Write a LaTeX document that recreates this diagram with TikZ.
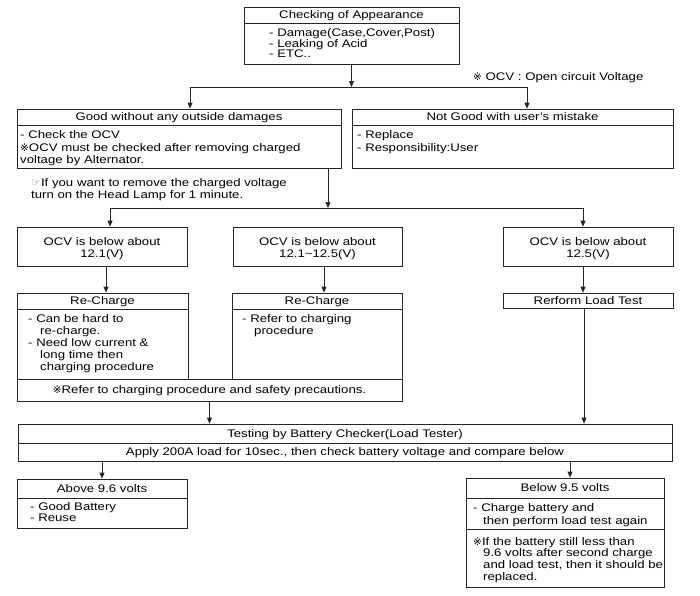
\documentclass[tikz,border=0pt]{standalone}
\usepackage{fontspec}
\setmainfont{Liberation Sans}[FakeStretch=1.2]
\newfontfamily\symf{DejaVu Sans}
\usetikzlibrary{arrows.meta}
\newcommand{\rmk}{{\fontsize{10.5}{12}\symf ※}}
\newcommand{\hand}{{\fontsize{11}{12}\symf\color{black!55}☞}}
\begin{document}
\begin{tikzpicture}[x=1pt,y=-1pt,font=\fontsize{11}{12}\selectfont,
  box/.style={draw=black!85,line width=0.7pt,inner sep=0pt,text height=7.9pt,text depth=0pt},
  tl/.style={anchor=base west,inner sep=0pt},
  tc/.style={anchor=base,inner sep=0pt},
  ln/.style={draw=black!85,line width=0.7pt},
  arr/.style={draw=black!85,line width=0.7pt,-{Triangle[length=6pt,width=5pt]}}]
\useasboundingbox (0,0) rectangle (700,595);
% top
\node[box,minimum width=215,minimum height=16] (apph) at (351.5,15) {Checking of Appearance};
\node[box,minimum width=215,minimum height=41] (appb) at (351.5,43.5) {};
\node[tl] (a1) at (269,36) {- Damage(Case,Cover,Post)};
\node[tl] (a2) at (269,47) {- Leaking of Acid};
\node[tl] (a3) at (269,57) {- ETC..};
\node[tl] (ocvnote) at (473,80) {\rmk\ OCV : Open circuit Voltage};
% level 2
\node[box,minimum width=324,minimum height=16] (goodh) at (179,117) {Good without any outside damages};
\node[box,minimum width=324,minimum height=43] (goodb) at (179,146.5) {};
\node[tl] (g1) at (20,138) {- Check the OCV};
\node[tl] (g2) at (20,151) {\rmk OCV must be checked after removing charged};
\node[tl] (g3) at (20,163) {voltage by Alternator.};
\node[box,minimum width=321,minimum height=16] (notgh) at (512.5,117) {Not Good with user's mistake};
\node[box,minimum width=321,minimum height=43] (notgb) at (512.5,146.5) {};
\node[tl] (n1) at (357,138) {- Replace};
\node[tl] (n2) at (357,151) {- Responsibility:User};
\node[tl] (h1) at (31,186) {\hand If you want to remove the charged voltage};
\node[tl] (h2) at (31,198) {turn on the Head Lamp for 1 minute.};
% level 3
\node[box,minimum width=170,minimum height=39] (ocv1) at (102,246.5) {};
\node[tc] (o1a) at (102,245) {OCV is below about};
\node[tc] (o1b) at (102,257) {12.1(V)};
\node[box,minimum width=169,minimum height=39] (ocv2) at (317.5,246.5) {};
\node[tc] (o2a) at (317.5,245) {OCV is below about};
\node[tc] (o2b) at (317.5,257) {12.1\textasciitilde 12.5(V)};
\node[box,minimum width=170,minimum height=39] (ocv3) at (588,246.5) {};
\node[tc] (o3a) at (588,245) {OCV is below about};
\node[tc] (o3b) at (588,257) {12.5(V)};
% level 4
\node[box,minimum width=171,minimum height=16] (rc1h) at (102.5,301) {Re-Charge};
\node[box,minimum width=171,minimum height=70] (rc1b) at (102.5,344) {};
\node[tl] (r1) at (28,322) {- Can be hard to};
\node[tl] (r2) at (40,334) {re-charge.};
\node[tl] (r3) at (28,346) {- Need low current \&};
\node[tl] (r4) at (40,358) {long time then};
\node[tl] (r5) at (40,370) {charging procedure};
\node[box,minimum width=170,minimum height=16] (rc2h) at (317,301) {Re-Charge};
\node[box,minimum width=170,minimum height=70] (rc2b) at (317,344) {};
\node[tl] (s1) at (242,322) {- Refer to charging};
\node[tl] (s2) at (254,334) {procedure};
\node[box,minimum width=385,minimum height=22] (rcn) at (209.5,390) {\rmk Refer to charging procedure and safety precautions.};
\node[box,minimum width=170,minimum height=15] (rerform) at (588,300.5) {Rerform Load Test};
% testing
\node[box,minimum width=654,minimum height=19] (testh) at (345,433.5) {Testing by Battery Checker(Load Tester)};
\node[box,minimum width=654,minimum height=18] (testb) at (345,452) {Apply 200A load for 10sec., then check battery voltage and compare below};
% results
\node[box,minimum width=170,minimum height=19] (aboveh) at (102,488.5) {Above 9.6 volts};
\node[box,minimum width=170,minimum height=30] (aboveb) at (102,513) {};
\node[tl] (b1) at (30,510) {- Good Battery};
\node[tl] (b2) at (30,521) {- Reuse};
\node[box,minimum width=198,minimum height=20] (belowh) at (565,488) {Below 9.5 volts};
\node[box,minimum width=198,minimum height=31] (belowb1) at (565,513.5) {};
\node[tl] (c1) at (473,511) {- Charge battery and};
\node[tl] (c2) at (483,524) {then perform load test again};
\node[box,minimum width=198,minimum height=58] (belowb2) at (565,558) {};
\node[tl] (d1) at (473,545) {\rmk If the battery still less than};
\node[tl] (d2) at (483,556) {9.6 volts after second charge};
\node[tl] (d3) at (483,568) {and load test, then it should be};
\node[tl] (d4) at (483,580) {replaced.};
% connectors
\coordinate (j1) at (351.5,87);
\coordinate (j1l) at (190,87);
\coordinate (j1r) at (527,87);
\draw[arr] (appb.south) -- (j1);
\draw[ln] (j1l) -- (j1r);
\draw[arr] (j1l) -- (j1l |- goodh.north);
\draw[arr] (j1r) -- (j1r |- notgh.north);
\coordinate (j2) at (328,208);
\coordinate (j2l) at (110,208);
\coordinate (j2r) at (583,208);
\draw[arr] (goodb.south -| j2) -- (j2);
\draw[ln] (j2l) -- (j2r);
\draw[arr] (j2l) -- (j2l |- ocv1.north);
\draw[arr] (j2r) -- (j2r |- ocv3.north);
\coordinate (x1) at (106,0);
\coordinate (x2) at (324,0);
\coordinate (x3) at (583,0);
\coordinate (x4) at (584,0);
\coordinate (x5) at (570,0);
\draw[arr] (ocv1.south -| x1) -- (rc1h.north -| x1);
\draw[arr] (ocv2.south -| x2) -- (rc2h.north -| x2);
\draw[arr] (ocv3.south -| x3) -- (rerform.north -| x3);
\draw[arr] (rcn.south) -- (rcn.south |- testh.north);
\draw[arr] (rerform.south -| x4) -- (testh.north -| x4);
\draw[arr] (aboveh.north |- testb.south) -- (aboveh.north);
\draw[arr] (testb.south -| x5) -- (belowh.north -| x5);
\end{tikzpicture}
\end{document}
